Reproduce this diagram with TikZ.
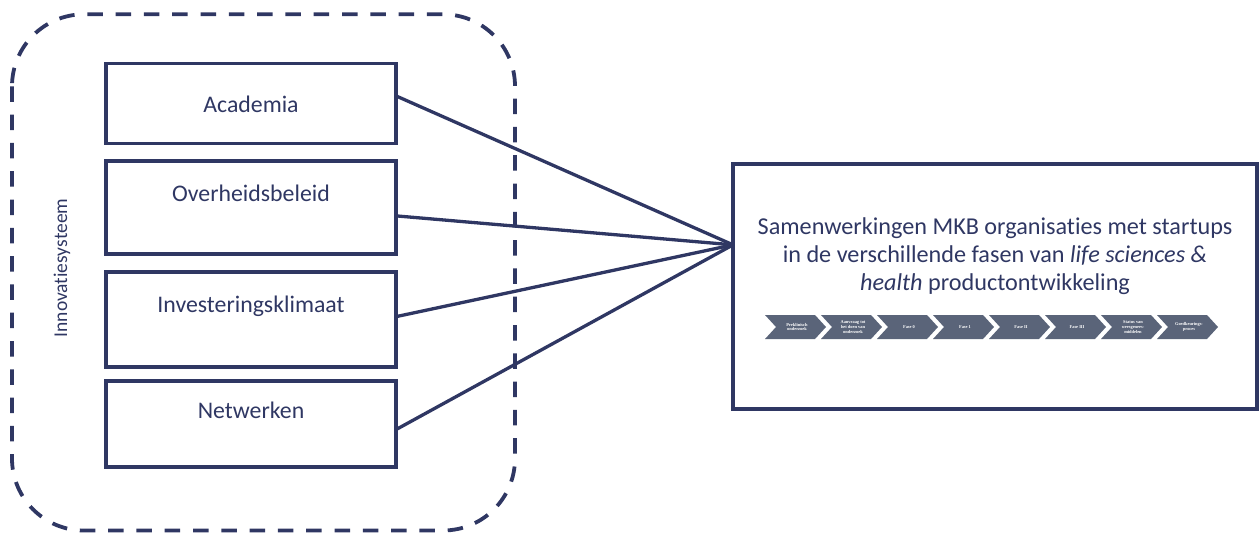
\documentclass[tikz,border=0pt]{standalone}
\usepackage{fontspec}
\setmainfont{Carlito}[Ligatures=NoCommon]
\newfontfamily\chevfont{Liberation Serif}
\usetikzlibrary{calc}
\definecolor{navy}{HTML}{2F3763}
\definecolor{slate}{HTML}{5A6479}
\tikzset{
  frame/.style={draw=navy, line width=3.8pt, dash pattern=on 15.5pt off 12.8pt, rounded corners=72pt},
  box/.style={draw=navy, line width=3.3pt, rectangle, inner sep=0pt, outer sep=0pt},
  lbl/.style={text=navy, font=\fontsize{23.8}{28}\selectfont, inner sep=0pt},
  link/.style={draw=navy, line width=3.3pt},
  chev/.style={fill=slate, draw=none},
  chevtxt/.style={text=white, font=\chevfont\bfseries\fontsize{4.4}{4.8}\selectfont, align=center, inner sep=0pt}
}
\begin{document}
\begin{tikzpicture}[x=1pt, y=-1pt]
\useasboundingbox (0,0) rectangle (1260,533);

% dashed outline of the innovation system
\draw[frame] (12,14.3) rectangle (515,530.5);
\node[text=navy, font=\fontsize{19.5}{23}\selectfont, rotate=90, inner sep=0pt] (sys) at (62,268) {Innovatiesysteem};

% the four factor boxes
\node[box, minimum width=290pt, minimum height=80pt] (aca) at (251,103.5) {};
\node[box, minimum width=290pt, minimum height=93pt] (ovh) at (251,207.5) {};
\node[box, minimum width=290pt, minimum height=95pt] (inv) at (251,319.5) {};
\node[box, minimum width=290pt, minimum height=86pt] (net) at (251,424) {};

\node[lbl] (acat) at (251,104) {Academia};
\node[lbl] (ovht) at (251,193) {Overheidsbeleid};
\node[lbl] (invt) at (251,306) {Investeringsklimaat};
\node[lbl] (nett) at (251,410) {Netwerken};

% target box
\node[box, minimum width=524pt, minimum height=245pt] (res) at (995,286.5) {};
\node[lbl, align=center, font=\fontsize{24.2}{28}\selectfont] (rest) at (995,256)
  {Samenwerkingen MKB organisaties met startups\\
   in de verschillende fasen van \textit{life sciences \&}\\
   \textit{health} productontwikkeling};

\coordinate (hub) at ($(res.north west)!0.33!(res.south west)$);

% connectors
\draw[link] ($(aca.north east)!0.405!(aca.south east)$) -- (hub);
\draw[link] ($(ovh.north east)!0.59!(ovh.south east)$) -- (hub);
\draw[link] ($(inv.north east)!0.47!(inv.south east)$) -- (hub);
\draw[link] ($(net.north east)!0.565!(net.south east)$) -- (hub);

% development phases
\foreach \i/\t in {0/{Preklinisch\\onderzoek},
                   1/{Aanvraag tot\\het doen van\\onderzoek},
                   2/{Fase 0},
                   3/{Fase 1},
                   4/{Fase II},
                   5/{Fase III},
                   6/{Status van\\weesgenees-\\middelen},
                   7/{Goedkeurings-\\proces}} {
  \pgfmathsetmacro{\xo}{765+56*\i}
  \fill[chev] (\xo,315) -- ++(50,0) -- ++(11,12) -- ++(-11,12) -- ++(-50,0) -- ++(11,-12) -- cycle;
  \node[chevtxt] (ph\i) at (\xo+32,327) {\t};
}
\end{tikzpicture}
\end{document}
